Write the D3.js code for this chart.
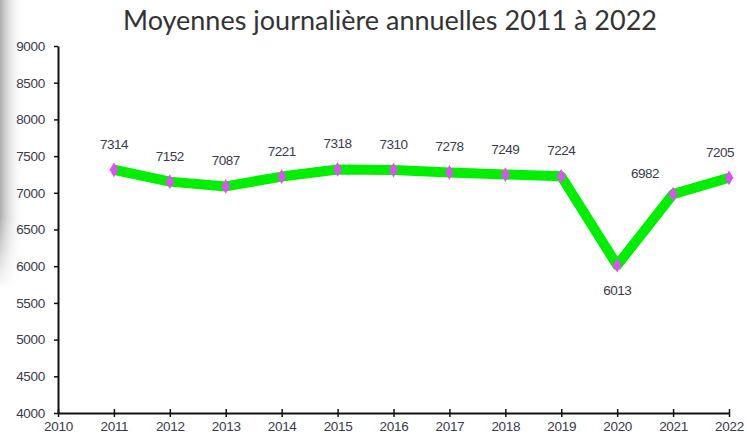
<!DOCTYPE html>
<html>
<head>
<meta charset="utf-8">
<script src="https://cdn.jsdelivr.net/npm/d3@7"></script>
<style>
  body { margin: 0; background: #fff; }
  svg { display: block; }
</style>
</head>
<body>
<div id="chart"></div>
<script>
// data
var years = [2011, 2012, 2013, 2014, 2015, 2016, 2017, 2018, 2019, 2020, 2021, 2022];
var values = [7314, 7152, 7087, 7221, 7318, 7310, 7278, 7249, 7224, 6013, 6982, 7205];
var xTicks = [2010, 2011, 2012, 2013, 2014, 2015, 2016, 2017, 2018, 2019, 2020, 2021, 2022];
var yTicks = [4000, 4500, 5000, 5500, 6000, 6500, 7000, 7500, 8000, 8500, 9000];
var title = "Moyennes journalière annuelles 2011 à 2022";

var W = 747, H = 440;
var margin = { top: 46, right: 18, bottom: 27, left: 58 },
  width = W - margin.left - margin.right,
  height = H - margin.top - margin.bottom;

var svg = d3.select("#chart")
  .append("svg")
  .attr("width", W)
  .attr("height", H);

// soft grey shadow on the left edge
var defs = svg.append("defs");
var grad = defs.append("linearGradient").attr("id", "shade")
  .attr("x1", 0).attr("x2", 1).attr("y1", 0).attr("y2", 0);
grad.append("stop").attr("offset", "0%").attr("stop-color", "#9a9a9a").attr("stop-opacity", 0.8);
grad.append("stop").attr("offset", "100%").attr("stop-color", "#ffffff").attr("stop-opacity", 0);
var vgrad = defs.append("linearGradient").attr("id", "vfade")
  .attr("x1", 0).attr("x2", 0).attr("y1", 0).attr("y2", 1);
vgrad.append("stop").attr("offset", "0%").attr("stop-color", "#fff");
vgrad.append("stop").attr("offset", "75%").attr("stop-color", "#fff");
vgrad.append("stop").attr("offset", "100%").attr("stop-color", "#000");
defs.append("mask").attr("id", "fadeMask")
  .append("rect").attr("x", 0).attr("y", 0).attr("width", 30).attr("height", 290)
  .attr("fill", "url(#vfade)");
svg.append("rect")
  .attr("x", 0).attr("y", 0).attr("width", 24).attr("height", 290)
  .attr("fill", "url(#shade)")
  .attr("mask", "url(#fadeMask)");

// title
svg.append("text")
  .attr("x", 390)
  .attr("y", 30)
  .attr("text-anchor", "middle")
  .style("font-family", "Lato, 'Open Sans', sans-serif")
  .style("font-size", "27px")
  .style("fill", "#333")
  .text(title);

var g = svg.append("g")
  .attr("transform", "translate(" + margin.left + "," + margin.top + ")");

// scales
var x = d3.scaleLinear().domain([2010, 2022]).range([0, width]);
var y = d3.scaleLinear().domain([4000, 9000]).range([height, 0]);

var tickFont = "Arial, 'Liberation Sans', sans-serif";

// y axis
var yAxis = g.append("g")
  .call(d3.axisLeft(y).tickValues(yTicks).tickSize(4).tickSizeOuter(0).tickFormat(d3.format("d")));
yAxis.select(".domain").attr("stroke", "#111").attr("stroke-width", 2);
yAxis.selectAll(".tick line").attr("stroke", "#111").attr("stroke-width", 1.5);
yAxis.selectAll(".tick text")
  .attr("x", -13)
  .style("font-family", tickFont)
  .style("font-size", "13.5px")
  .style("letter-spacing", "-0.3px")
  .style("fill", "#3a3a4a");

// x axis
var xAxis = g.append("g")
  .attr("transform", "translate(0," + height + ")")
  .call(d3.axisBottom(x).tickValues(xTicks).tickSize(4).tickSizeOuter(0).tickFormat(d3.format("d")));
xAxis.select(".domain").attr("stroke", "#111").attr("stroke-width", 2);
xAxis.selectAll(".tick line").attr("y1", -4).attr("y2", 4).attr("stroke", "#111").attr("stroke-width", 1.5);
xAxis.selectAll(".tick text")
  .attr("y", 8)
  .style("font-family", tickFont)
  .style("font-size", "13.5px")
  .style("letter-spacing", "-0.3px")
  .style("fill", "#3a3a4a");

var data = years.map(function (d, i) { return { year: d, value: values[i] }; });

// the thick green line
var line = d3.line()
  .x(function (d) { return x(d.year) })
  .y(function (d) { return y(d.value) });

g.append("path")
  .datum(data)
  .attr("fill", "none")
  .attr("stroke", "#00ee00")
  .attr("stroke-width", 10)
  .attr("stroke-linejoin", "round")
  .attr("d", line);

// markers
var marks = g.selectAll("g.mark")
  .data(data)
  .enter()
  .append("g")
  .attr("class", "mark")
  .attr("transform", function (d) { return "translate(" + x(d.year) + "," + y(d.value) + ")" });

marks.append("path")
  .attr("d", d3.symbol().type(d3.symbolDiamond).size(44))
  .attr("fill", "#a86cf0")
  .attr("stroke", "#ff40ff")
  .attr("stroke-width", 1.2);
marks.append("path")
  .attr("d", "M-4.5,0H4.5M0,-4.5V4.5")
  .attr("stroke", "#ff40ff")
  .attr("stroke-width", 1);

// value labels
g.selectAll("text.val")
  .data(data)
  .enter()
  .append("text")
  .attr("class", "val")
  .attr("x", function (d) {
    if (d.year === 2021) return x(d.year) - 28;
    if (d.year === 2022) return x(d.year) - 9;
    return x(d.year);
  })
  .attr("y", function (d) {
    if (d.year === 2020) return y(d.value) + 30;
    if (d.year === 2021) return y(d.value) - 16;
    return y(d.value) - 21;
  })
  .attr("text-anchor", "middle")
  .style("font-family", tickFont)
  .style("font-size", "13.5px")
  .style("letter-spacing", "-0.5px")
  .style("fill", "#3a3a4a")
  .text(function (d) { return d.value });
</script>
</body>
</html>
